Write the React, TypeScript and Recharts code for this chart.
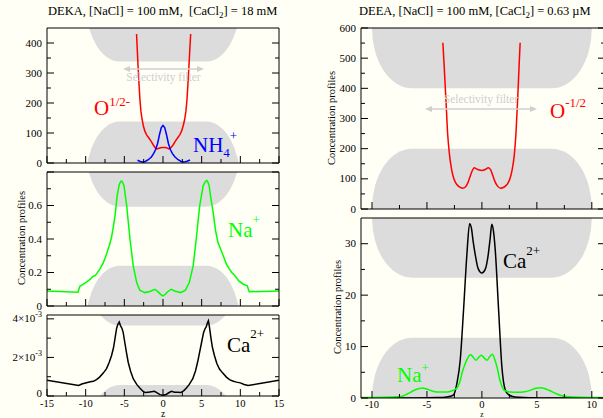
import React from 'react';
import { LineChart, Line, XAxis, YAxis, ReferenceArea } from 'recharts';

const FONT = '"Liberation Serif", "DejaVu Serif", "Times New Roman", serif';
const BG = '#fffff6';
const WALL = '#dcdcdc';
const FILTER = '#cfcfcf';

type Pt = [number, number];

// DEKA, left column: [z, concentration]
const dekaOxygen: Pt[] = [
  [-3.42, 430], [-3.32, 375], [-3.22, 320], [-3.1, 262], [-2.98, 210], [-2.85, 172], [-2.7, 145],
  [-2.55, 125], [-2.35, 106], [-2.1, 93], [-1.85, 84], [-1.55, 73], [-1.25, 60], [-1.0, 50],
  [-0.75, 47], [-0.45, 50], [-0.15, 52], [0.15, 52], [0.45, 51], [0.75, 47], [1.0, 50], [1.3, 60],
  [1.6, 73], [1.9, 84], [2.15, 93], [2.4, 106], [2.62, 125], [2.8, 145], [2.96, 172], [3.1, 210],
  [3.22, 262], [3.35, 320], [3.46, 375], [3.58, 430],
];

const dekaAmmonium: Pt[] = [
  [-3.3, 9], [-3.0, 6], [-2.65, 3], [-2.3, 5], [-1.9, 11], [-1.5, 20], [-1.2, 32], [-0.95, 45],
  [-0.7, 65], [-0.45, 95], [-0.22, 118], [0, 125], [0.22, 118], [0.45, 95], [0.7, 65], [0.95, 45],
  [1.2, 32], [1.55, 20], [1.95, 11], [2.35, 5], [2.7, 3], [3.1, 6], [3.5, 10],
];

const dekaSodium: Pt[] = [
  [-15, 0.09], [-11.0, 0.082], [-10.75, 0.118], [-10.3, 0.13], [-9.9, 0.142], [-9.4, 0.16],
  [-9.05, 0.178], [-8.8, 0.18], [-8.6, 0.192], [-8.15, 0.222], [-7.7, 0.26], [-7.3, 0.31],
  [-6.95, 0.36], [-6.65, 0.41], [-6.4, 0.48], [-6.2, 0.54], [-5.92, 0.66], [-5.66, 0.725],
  [-5.45, 0.745], [-5.3, 0.745], [-5.05, 0.72], [-4.7, 0.6], [-4.27, 0.4], [-3.85, 0.24],
  [-3.4, 0.14], [-3.0, 0.095], [-2.35, 0.08], [-1.7, 0.087], [-1.05, 0.1], [-0.6, 0.083],
  [-0.2, 0.065], [0, 0.06], [0.3, 0.07], [0.6, 0.085], [1.05, 0.1], [1.6, 0.088], [2.3, 0.08],
  [2.9, 0.095], [3.4, 0.14], [3.9, 0.24], [4.3, 0.4], [4.75, 0.6], [5.2, 0.72], [5.45, 0.74],
  [5.65, 0.75], [5.8, 0.74], [5.96, 0.72], [6.2, 0.64], [6.48, 0.56], [6.8, 0.45], [7.1, 0.38],
  [7.7, 0.31], [8.2, 0.25], [8.6, 0.22], [8.9, 0.2], [9.3, 0.18], [9.8, 0.15], [10.4, 0.13],
  [10.9, 0.12], [11.15, 0.085], [15, 0.09],
];

const dekaCalcium: Pt[] = [
  [-15, 0.00082], [-10.9, 0.00055], [-10.5, 0.00062], [-9.9, 0.00069], [-9.4, 0.00074],
  [-9.0, 0.00076], [-8.6, 0.00085], [-8.2, 0.00098], [-7.7, 0.0012], [-7.3, 0.00142],
  [-6.95, 0.00175], [-6.65, 0.0021], [-6.4, 0.0025], [-6.2, 0.003], [-6.0, 0.0035],
  [-5.85, 0.0037], [-5.66, 0.00383], [-5.5, 0.00365], [-5.3, 0.0035], [-5.15, 0.0033],
  [-4.95, 0.0028], [-4.7, 0.0022], [-4.5, 0.00175], [-4.2, 0.0013], [-3.85, 0.0009],
  [-3.4, 0.0006], [-3.0, 0.00041], [-2.6, 0.00025], [-2.3, 0.00018], [-1.9, 0.0002],
  [-1.5, 0.00022], [-1.1, 0.00024], [-0.7, 0.00015], [-0.4, 0.00007], [0, 0.00004],
  [0.4, 0.00008], [0.8, 0.00018], [1.1, 0.00024], [1.5, 0.0002], [1.9, 0.00019], [2.3, 0.00018],
  [2.7, 0.00028], [3.0, 0.0004], [3.4, 0.0006], [3.85, 0.0009], [4.2, 0.0013], [4.5, 0.0018],
  [4.75, 0.0023], [5.0, 0.0028], [5.25, 0.0033], [5.45, 0.0035], [5.6, 0.0036], [5.75, 0.0038],
  [5.87, 0.0039], [6.0, 0.0036], [6.2, 0.003], [6.4, 0.0025], [6.65, 0.0021], [6.95, 0.0017],
  [7.3, 0.0014], [7.7, 0.0012], [8.2, 0.00098], [8.6, 0.00085], [9.0, 0.00078], [9.5, 0.00072],
  [10, 0.00068], [10.5, 0.0006], [11.0, 0.00054], [15, 0.00082],
];

// DEEA, right column
const deeaOxygen: Pt[] = [
  [-3.55, 551], [-3.43, 472], [-3.27, 361], [-3.12, 251], [-2.95, 180], [-2.75, 130], [-2.55, 100],
  [-2.3, 82], [-2.05, 73], [-1.75, 69], [-1.5, 73], [-1.3, 85], [-1.1, 105], [-0.9, 125],
  [-0.7, 137], [-0.5, 133], [-0.25, 129], [0, 128], [0.25, 130], [0.6, 137], [0.8, 130],
  [1.0, 110], [1.2, 90], [1.45, 75], [1.7, 69], [2.0, 72], [2.3, 82], [2.55, 100], [2.75, 130],
  [2.95, 180], [3.1, 251], [3.25, 361], [3.38, 472], [3.48, 551],
];

const deeaCalcium: Pt[] = [
  [-11, 0], [-6, 0.02], [-4, 0.08], [-3.2, 0.2], [-2.85, 0.35], [-2.58, 0.6], [-2.27, 2.9],
  [-1.97, 7.4], [-1.67, 17.1], [-1.36, 28.1], [-1.12, 33.9], [-0.95, 33], [-0.8, 30.5],
  [-0.6, 27.8], [-0.35, 25.2], [0, 24.3], [0.3, 25], [0.55, 27.5], [0.75, 31], [0.9, 33.8],
  [1.05, 32.5], [1.21, 28.9], [1.52, 17.1], [1.82, 6], [2.12, 1.6], [2.4, 0.7], [2.8, 0.3],
  [3.4, 0.15], [4.5, 0.06], [6, 0.02], [11.2, 0],
];

const deeaSodium: Pt[] = [
  [-11, 0.1], [-9, 0.15], [-7.4, 0.3], [-6.8, 0.77], [-6.2, 1.47], [-5.7, 1.85], [-5.4, 1.95],
  [-5.0, 1.75], [-4.4, 1.28], [-3.8, 1.15], [-3.2, 1.15], [-2.9, 1.28], [-2.5, 1.6], [-2.25, 2.0],
  [-2.0, 3.2], [-1.8, 4.9], [-1.55, 6.5], [-1.35, 7.5], [-1.05, 8.4], [-0.85, 8.1], [-0.55, 7.35],
  [-0.3, 7.9], [-0.05, 8.3], [0.2, 7.8], [0.45, 7.35], [0.7, 8.0], [0.95, 8.5], [1.2, 7.3],
  [1.4, 5.8], [1.6, 3.8], [1.8, 2.4], [2.1, 1.4], [2.6, 1.15], [3.2, 1.1], [3.9, 1.2], [4.4, 1.5],
  [4.9, 1.9], [5.3, 2.0], [5.7, 1.85], [6.1, 1.5], [6.6, 1.0], [7.1, 0.55], [7.7, 0.3],
  [9, 0.15], [11.2, 0.1],
];

// ticks
const dekaZMajor = [-15, -10, -5, 0, 5, 10, 15];
const dekaZMinor = [-12.5, -7.5, -2.5, 2.5, 7.5, 12.5];
const deeaZMajor = [-10, -5, 0, 5, 10];
const deeaZMinor = [-7.5, -2.5, 2.5, 7.5];

// pore wall edges (value where the grey wall meets the open channel)
const dekaWalls = { o: [338, 138], na: [0.593, 0.241], ca: [0.00365, 0.00057] };
const deeaWalls = { o: [400, 200], ca: [23.4, 11.72] };

const near = (list: number[], v: number) => list.some((m) => Math.abs(m - v) < 1e-9);
const rows = (pts: Pt[]) => pts.map(([z, c]) => ({ z, c }));

type Side = 'bottom' | 'top' | 'left' | 'right';

const makeTick = (side: Side, majors: number[], label?: (v: number) => React.ReactNode, labelDy = 11, zeroLift = 0) => (props: any) => {
  const { x, y, payload } = props;
  const v = payload.value;
  const major = near(majors, v);
  const len = major ? 7 : 4;
  let x2 = x;
  let y2 = y;
  if (side === 'bottom') y2 = y - len;
  if (side === 'top') y2 = y + len;
  if (side === 'left') x2 = x + len;
  if (side === 'right') x2 = x - len;
  let text: React.ReactNode = null;
  if (major && label) {
    const content = label(v);
    if (content !== null) {
      if (side === 'bottom') {
        text = (
          <text x={x} y={y + labelDy} textAnchor="middle" fontSize={10.5} fontFamily={FONT} fill="#000">
            {content}
          </text>
        );
      } else {
        text = (
          <text x={x - 5} y={y + 3.5 - (v === 0 ? zeroLift : 0)} textAnchor="end" fontSize={11} fontFamily={FONT} fill="#000">
            {content}
          </text>
        );
      }
    }
  }
  return (
    <g>
      <line x1={x} y1={y} x2={x2} y2={y2} stroke="#000" strokeWidth={1} />
      {text}
    </g>
  );
};

const wallShape = (hang: 'top' | 'bottom', rx: number, ry: number) => (p: any) => {
  const { x, y, width, height } = p;
  const w = width;
  if (hang === 'top') {
    const e = y + height;
    const d = `M${x},${e - ry - 600} L${x},${e - ry} A${rx},${ry} 0 0 0 ${x + rx},${e} L${x + w - rx},${e} A${rx},${ry} 0 0 0 ${x + w},${e - ry} L${x + w},${e - ry - 600} Z`;
    return <path d={d} fill={WALL} stroke="none" clipPath={p.clipPath} />;
  }
  const s = y;
  const d = `M${x},${s + ry + 600} L${x},${s + ry} A${rx},${ry} 0 0 1 ${x + rx},${s} L${x + w - rx},${s} A${rx},${ry} 0 0 1 ${x + w},${s + ry} L${x + w},${s + ry + 600} Z`;
  return <path d={d} fill={WALL} stroke="none" clipPath={p.clipPath} />;
};

interface Curve {
  points: Pt[];
  color: string;
}

interface PanelProps {
  box: { left: number; right: number; top: number; bottom: number };
  width: number;
  xDomain: [number, number];
  yDomain: [number, number];
  xMajor: number[];
  xMinor: number[];
  yMajor: number[];
  yMinor: number[];
  xLabel?: (v: number) => React.ReactNode;
  yLabel?: (v: number) => React.ReactNode;
  xLabelDy?: number;
  zeroLift?: number;
  walls: number[];
  wallX: [number, number];
  rx: number;
  curves: Curve[];
  smooth?: boolean;
}

const Panel: React.FC<PanelProps> = ({
  box, width, xDomain, yDomain, xMajor, xMinor, yMajor, yMinor, xLabel, yLabel, xLabelDy = 11, zeroLift = 0,
  walls, wallX, rx, curves, smooth,
}) => {
  const H = 418;
  const margin = { left: box.left - 1, top: box.top - 1, right: width - box.right - 1, bottom: H - box.bottom - 1 };
  const xTicks = [...xMajor, ...xMinor].sort((a, b) => a - b);
  const yTicks = [...yMajor, ...yMinor].sort((a, b) => a - b);
  const axisCommon = { type: 'number' as const, interval: 0 as const, tickSize: 0, tickMargin: 0, tickLine: false, axisLine: { stroke: '#000' }, allowDataOverflow: true };
  return (
    <div style={{ position: 'absolute', left: 0, top: 0 }}>
      <LineChart width={width} height={H} margin={margin}>
        <XAxis xAxisId="b" dataKey="z" orientation="bottom" domain={xDomain} ticks={xTicks} height={1} tick={makeTick('bottom', xMajor, xLabel, xLabelDy)} {...axisCommon} />
        <XAxis xAxisId="t" orientation="top" domain={xDomain} ticks={xTicks} height={1} tick={makeTick('top', xMajor)} {...axisCommon} />
        <YAxis yAxisId="l" orientation="left" domain={yDomain} ticks={yTicks} width={1} tick={makeTick('left', yMajor, yLabel, 0, zeroLift)} {...axisCommon} />
        <YAxis yAxisId="r" orientation="right" domain={yDomain} ticks={yTicks} width={1} tick={makeTick('right', yMajor)} {...axisCommon} />
        <ReferenceArea xAxisId="b" yAxisId="l" x1={wallX[0]} x2={wallX[1]} y1={walls[0]} y2={yDomain[1]} ifOverflow="hidden" shape={wallShape('top', rx, 60)} />
        <ReferenceArea xAxisId="b" yAxisId="l" x1={wallX[0]} x2={wallX[1]} y1={yDomain[0]} y2={walls[1]} ifOverflow="hidden" shape={wallShape('bottom', rx, 60)} />
        {curves.map((c, i) => (
          <Line
            key={i}
            xAxisId="b"
            yAxisId="l"
            data={rows(c.points)}
            dataKey="c"
            type={smooth ? 'monotone' : 'linear'}
            stroke={c.color}
            strokeWidth={1.5}
            dot={false}
            activeDot={false}
            isAnimationActive={false}
          />
        ))}
      </LineChart>
    </div>
  );
};

const plain = (v: number) => String(v);
const sci = (v: number) =>
  v === 0 ? '0' : (
    <>
      {Math.round(v * 1000)}×10<tspan dy={-5} fontSize={8}>-3</tspan>
    </>
  );

const Sup: React.FC<{ x: number; y: number; base: string; sup?: string; sub?: string; color: string; supDy?: number }> = ({
  x, y, base, sup, sub, color, supDy = -10,
}) => (
  <text x={x} y={y} fill={color} fontFamily={FONT} fontSize={21}>
    {base}
    {sub && <tspan dy={5} fontSize={13}>{sub}</tspan>}
    {sup && <tspan dy={sub ? supDy - 5 : supDy} fontSize={13}>{sup}</tspan>}
  </text>
);

const FilterArrow: React.FC<{ x1: number; x2: number; y: number; ty: number }> = ({ x1, x2, y, ty }) => (
  <g>
    <line x1={x1 + 5} y1={y} x2={x2 - 5} y2={y} stroke={FILTER} strokeWidth={1.5} />
    <polygon points={`${x1},${y} ${x1 + 7},${y - 3} ${x1 + 7},${y + 3}`} fill={FILTER} />
    <polygon points={`${x2},${y} ${x2 - 7},${y - 3} ${x2 - 7},${y + 3}`} fill={FILTER} />
    <text x={(x1 + x2) / 2} y={ty} textAnchor="middle" fontFamily={FONT} fontSize={11.5} fill={FILTER}>
      Selectivity filter
    </text>
  </g>
);

const YTitle: React.FC<{ x: number; y: number }> = ({ x, y }) => (
  <text x={x} y={y} transform={`rotate(-90 ${x} ${y})`} textAnchor="middle" dominantBaseline="central" fontFamily={FONT} fontSize={10.5} fill="#000">
    Concentration profiles
  </text>
);

export default function App() {
  const leftBox = (top: number, bottom: number) => ({ left: 47, right: 279, top, bottom });
  const rightBox = (top: number, bottom: number) => ({ left: 361, right: 605, top, bottom });
  return (
    <div style={{ position: 'absolute', left: 0, top: 0, width: 603, height: 418, overflow: 'hidden', background: BG }}>
      <Panel
        box={leftBox(28, 163)} width={603} xDomain={[-15, 15]} yDomain={[0, 450]}
        xMajor={dekaZMajor} xMinor={dekaZMinor} yMajor={[0, 100, 200, 300, 400]} yMinor={[50, 150, 250, 350]}
        yLabel={plain} walls={dekaWalls.o} wallX={[-10, 10]} rx={34}
        curves={[{ points: dekaOxygen, color: '#ff0000' }, { points: dekaAmmonium, color: '#0000ff' }]}
      />
      <Panel
        box={leftBox(172, 306)} width={603} xDomain={[-15, 15]} yDomain={[0, 0.8]}
        xMajor={dekaZMajor} xMinor={dekaZMinor} yMajor={[0, 0.2, 0.4, 0.6, 0.8]} yMinor={[0.1, 0.3, 0.5, 0.7]}
        yLabel={(v) => (v === 0.8 ? null : String(v))} walls={dekaWalls.na} wallX={[-10, 10]} rx={34}
        curves={[{ points: dekaSodium, color: '#00ff00' }]}
      />
      <Panel
        box={leftBox(315, 396)} width={603} xDomain={[-15, 15]} yDomain={[0, 0.0042]}
        xMajor={dekaZMajor} xMinor={dekaZMinor} yMajor={[0, 0.002, 0.004]} yMinor={[0.001, 0.003]}
        xLabel={plain} yLabel={sci} xLabelDy={11} zeroLift={3} walls={dekaWalls.ca} wallX={[-10, 10]} rx={34}
        curves={[{ points: dekaCalcium, color: '#000000' }]}
      />
      <Panel
        box={rightBox(28, 209)} width={612} xDomain={[-11, 11.2]} yDomain={[0, 600]}
        xMajor={deeaZMajor} xMinor={deeaZMinor} yMajor={[0, 100, 200, 300, 400, 500, 600]} yMinor={[50, 150, 250, 350, 450, 550]}
        yLabel={plain} walls={deeaWalls.o} wallX={[-10, 10]} rx={40} smooth
        curves={[{ points: deeaOxygen, color: '#ff0000' }]}
      />
      <Panel
        box={rightBox(218, 398)} width={612} xDomain={[-11, 11.2]} yDomain={[0, 35]}
        xMajor={deeaZMajor} xMinor={deeaZMinor} yMajor={[0, 10, 20, 30]} yMinor={[5, 15, 25]}
        xLabel={plain} yLabel={plain} xLabelDy={10} walls={deeaWalls.ca} wallX={[-10, 10]} rx={40} smooth
        curves={[{ points: deeaCalcium, color: '#000000' }, { points: deeaSodium, color: '#00ff00' }]}
      />
      <svg width={603} height={418} style={{ position: 'absolute', left: 0, top: 0, pointerEvents: 'none' }}>
        <text x={48} y={15} fontFamily={FONT} fontSize={12.5} fill="#000" style={{ whiteSpace: 'pre' }}>
          {'DEKA, [NaCl] = 100 mM,  [CaCl'}<tspan dy={3} fontSize={9}>2</tspan><tspan dy={-3}>] = 18 mM</tspan>
        </text>
        <text x={359} y={15} fontFamily={FONT} fontSize={12.5} fill="#000" style={{ whiteSpace: 'pre' }}>
          {'DEEA, [NaCl] = 100 mM, [CaCl'}<tspan dy={3} fontSize={9}>2</tspan><tspan dy={-3}>] = 0.63 µM</tspan>
        </text>
        <YTitle x={21} y={238} />
        <YTitle x={331} y={118} />
        <YTitle x={337} y={307} />
        <FilterArrow x1={123} x2={204} y={69} ty={81} />
        <FilterArrow x1={425} x2={537} y={109} ty={103} />
        <Sup x={94} y={115} base="O" sup="1/2-" color="#ff0000" supDy={-9} />
        <Sup x={193} y={152} base="NH" sub="4" sup="+" color="#0000ff" supDy={-12} />
        <Sup x={228} y={237} base="Na" sup="+" color="#00ff00" supDy={-13} />
        <Sup x={227} y={352} base="Ca" sup="2+" color="#000000" supDy={-14} />
        <Sup x={550} y={118} base="O" sup="-1/2" color="#ff0000" supDy={-11} />
        <Sup x={503} y={268} base="Ca" sup="2+" color="#000000" supDy={-13} />
        <Sup x={397} y={382} base="Na" sup="+" color="#00ff00" supDy={-10.5} />
        <text x={163} y={416.5} textAnchor="middle" fontFamily={FONT} fontSize={9.5} fill="#000">z</text>
        <text x={482} y={416.5} textAnchor="middle" fontFamily={FONT} fontSize={7.5} fill="#000">z</text>
      </svg>
    </div>
  );
}
